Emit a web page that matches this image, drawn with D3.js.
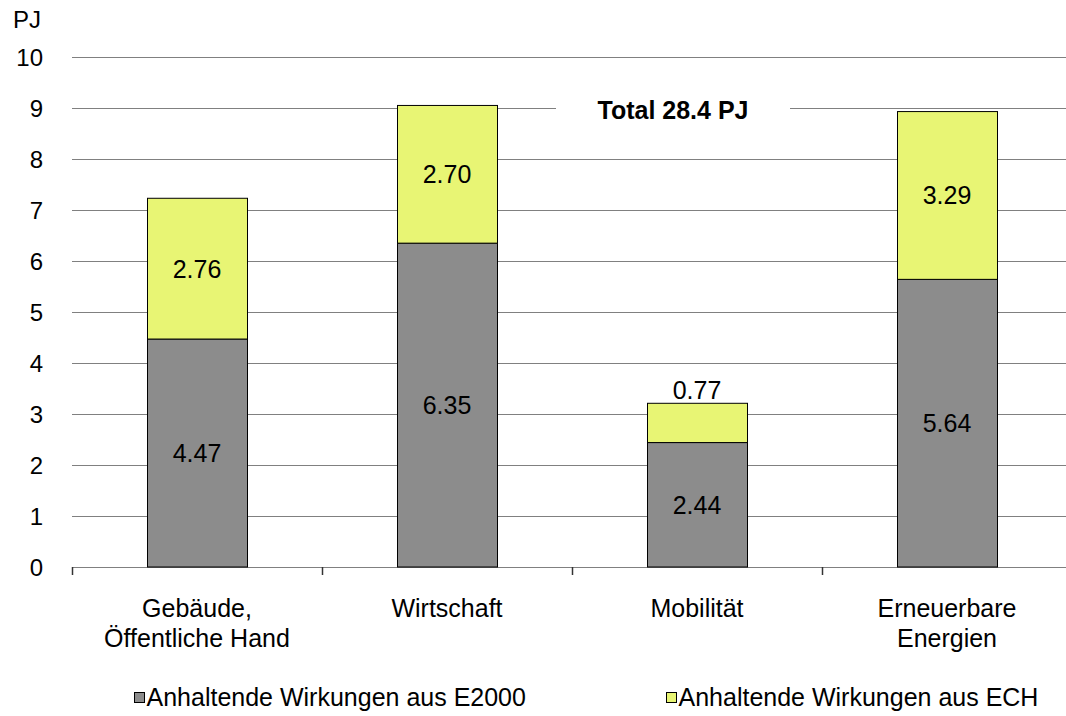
<!DOCTYPE html>
<html><head><meta charset="utf-8">
<script src="https://cdn.jsdelivr.net/npm/d3@7"></script>
<style>
body{margin:0;background:#fff;}
text{font-family:"Liberation Sans",Arial,sans-serif;fill:#000;}
</style></head>
<body><svg id="c" width="1066" height="716"></svg>
<script>
const categories = ["Gebäude,\nÖffentliche Hand", "Wirtschaft", "Mobilität", "Erneuerbare\nEnergien"];
const e2000 = [4.47, 6.35, 2.44, 5.64];
const ech = [2.76, 2.70, 0.77, 3.29];
const yTicks = [0,1,2,3,4,5,6,7,8,9,10];
const seriesNames = ["Anhaltende Wirkungen aus E2000", "Anhaltende Wirkungen aus ECH"];
const seriesColors = ["#8c8c8c", "#e8f574"];
const unitLabel = "PJ";
const totalLabel = "Total 28.4 PJ";

const svg = d3.select("#c");
const W = 1066;
const x = d3.scaleBand().domain(categories).range([72, 1072]).paddingInner(0.6).paddingOuter(0.3);
const y = d3.scaleLinear().domain([0, 10]).range([567, 57]);

// gridlines
svg.append("g").selectAll("line").data(yTicks).join("line")
  .attr("x1", 72).attr("x2", W).attr("y1", d => Math.round(y(d)) + 0.5).attr("y2", d => Math.round(y(d)) + 0.5)
  .attr("stroke", "#808080").attr("stroke-width", 1);

// y tick labels
svg.append("g").selectAll("text").data(yTicks).join("text")
  .attr("x", 43).attr("y", d => y(d)).attr("dy", "0.36em")
  .attr("text-anchor", "end").attr("font-size", 24).text(d => d);

svg.append("text").attr("x", 13).attr("y", 28).attr("font-size", 24).text(unitLabel);

// category ticks at band boundaries
const step = x.step();
const bounds = d3.range(categories.length).map(i => x.range()[0] + i * step);
svg.append("g").selectAll("line").data(bounds).join("line")
  .attr("x1", d => Math.round(d) + 0.5).attr("x2", d => Math.round(d) + 0.5)
  .attr("y1", 567).attr("y2", 575).attr("stroke", "#333").attr("stroke-width", 1.5);

// total label with white background
const tx = 673, ty = 119;
svg.append("rect").attr("x", 556).attr("y", 98).attr("width", 234).attr("height", 26).attr("fill", "#fff");
svg.append("text").attr("x", tx).attr("y", ty).attr("text-anchor", "middle")
  .attr("font-size", 25).attr("font-weight", "bold").text(totalLabel);

// bars
const stacks = categories.map((c, i) => ({c, a: e2000[i], b: ech[i]}));
const g = svg.append("g");
stacks.forEach(s => {
  const bx = Math.round(x(s.c)) + 0.5, bw = Math.round(x.bandwidth());
  g.append("rect").attr("x", bx).attr("width", bw)
    .attr("y", y(s.a)).attr("height", y(0) - y(s.a))
    .attr("fill", seriesColors[0]).attr("stroke", "#000").attr("stroke-width", 1);
  g.append("rect").attr("x", bx).attr("width", bw)
    .attr("y", y(s.a + s.b)).attr("height", y(s.a) - y(s.a + s.b))
    .attr("fill", seriesColors[1]).attr("stroke", "#000").attr("stroke-width", 1);
  const cx = x(s.c) + x.bandwidth() / 2;
  g.append("text").attr("x", cx).attr("y", y(s.a / 2)).attr("dy", "0.36em")
    .attr("text-anchor", "middle").attr("font-size", 25).text(s.a.toFixed(2));
  if (s.b < 1) {
    g.append("text").attr("x", cx).attr("y", y(s.a + s.b) - 4)
      .attr("text-anchor", "middle").attr("font-size", 25).text(s.b.toFixed(2));
  } else {
    g.append("text").attr("x", cx).attr("y", y(s.a + s.b / 2)).attr("dy", "0.36em")
      .attr("text-anchor", "middle").attr("font-size", 25).text(s.b.toFixed(2));
  }
});

// category labels
categories.forEach(c => {
  const lines = c.split("\n");
  const t = svg.append("text").attr("text-anchor", "middle").attr("font-size", 25);
  lines.forEach((l, i) => t.append("tspan").attr("x", x(c) + x.bandwidth() / 2).attr("y", 617 + i * 30).text(l));
});

// legend
const legX = [134.5, 666.5];
seriesNames.forEach((n, i) => {
  svg.append("rect").attr("x", legX[i]).attr("y", 692.5).attr("width", 10).attr("height", 10)
    .attr("fill", seriesColors[i]).attr("stroke", "#000").attr("stroke-width", 1);
  svg.append("text").attr("x", legX[i] + 12).attr("y", 706).attr("font-size", 25).text(n);
});
</script></body></html>
